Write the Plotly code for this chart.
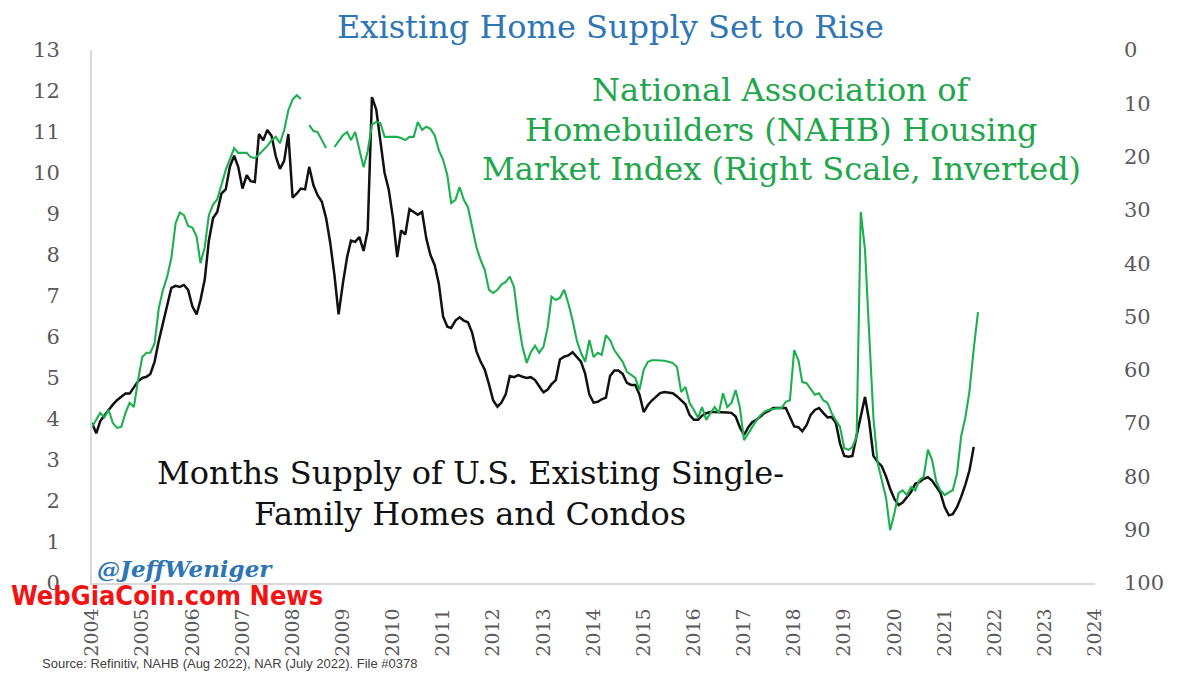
import plotly.graph_objects as go
import pandas as pd

# Months supply of existing homes (left axis), monthly from chart start
months_supply = [
    3.90, 3.65, 3.95, 4.10, 4.22, 4.35, 4.46, 4.54, 4.62, 4.62, 4.78, 4.92,
    5.00, 5.03, 5.10, 5.40, 5.90, 6.35, 6.75, 7.20, 7.25, 7.22, 7.27, 7.15,
    6.75, 6.55, 6.90, 7.40, 8.35, 8.90, 9.05, 9.50, 9.60, 10.15, 10.42, 10.15,
    9.62, 9.95, 9.80, 9.78, 10.95, 10.80, 11.05, 10.90, 10.40, 10.10, 10.30, 10.95,
    9.40, 9.50, 9.62, 9.60, 10.15, 9.70, 9.46, 9.30, 8.90, 8.30, 7.50, 6.55,
    7.30, 7.95, 8.35, 8.32, 8.44, 8.10, 8.60, 11.85, 11.55, 10.80, 10.00, 9.60,
    8.90, 7.95, 8.60, 8.50, 9.12, 9.05, 8.98, 9.05, 8.40, 8.00, 7.75, 7.30,
    6.50, 6.25, 6.22, 6.40, 6.48, 6.40, 6.36, 6.10, 5.65, 5.40, 5.20, 4.85,
    4.45, 4.30, 4.40, 4.60, 5.05, 5.02, 5.07, 5.03, 5.00, 5.02, 4.95, 4.80,
    4.65, 4.72, 4.85, 4.95, 5.45, 5.52, 5.55, 5.63, 5.50, 5.40, 5.10, 4.60,
    4.40, 4.42, 4.48, 4.52, 5.05, 5.18, 5.18, 5.10, 4.88, 4.83, 4.83, 4.60,
    4.17, 4.34, 4.45, 4.55, 4.63, 4.66, 4.65, 4.63, 4.55, 4.45, 4.36, 4.10,
    3.98, 3.98, 4.08, 4.14, 4.17, 4.17, 4.17, 4.17, 4.16, 4.15, 4.06, 3.80,
    3.61, 3.80, 3.92, 3.98, 4.07, 4.15, 4.20, 4.27, 4.27, 4.27, 4.27, 4.05,
    3.82, 3.80, 3.70, 3.85, 4.10, 4.22, 4.27, 4.15, 4.04, 4.05, 3.90, 3.40,
    3.10, 3.08, 3.10, 3.60, 4.05, 4.54, 3.95, 3.10, 2.95, 2.85, 2.60, 2.30,
    2.05, 1.90, 1.96, 2.08, 2.22, 2.42, 2.46, 2.54, 2.58, 2.50, 2.36, 2.20,
    1.85, 1.65, 1.68, 1.85, 2.10, 2.40, 2.75, 3.32,
]

# NAHB Housing Market Index (right axis, inverted); None = gap in the source line
nahb_index = [
    70.7, 69.4, 68.1, 68.9, 67.5, 70.0, 70.9, 70.7, 68.1, 66.2, 67.0, 62.0,
    57.6, 56.8, 56.8, 55.0, 48.5, 45.0, 42.6, 39.0, 32.5, 30.5, 31.0, 33.0,
    33.3, 35.0, 40.0, 37.0, 31.0, 29.0, 28.0, 25.3, 22.5, 20.5, 18.4, 19.3,
    19.3, 19.3, 20.1, 20.3, 19.6, 18.8, 18.0, 16.9, 16.3, 17.5, 15.0, 11.3,
    9.3, 8.5, 9.2, None, 14.1, 15.2, 15.4, 16.9, 18.4, None, 18.2, 17.0,
    16.0, 15.4, 16.9, 15.4, 18.5, 22.0, 19.0, 14.0, 13.5, 13.7, 16.3, 16.3,
    16.3, 16.3, 16.5, 16.9, 16.3, 16.3, 13.5, 15.0, 14.4, 14.8, 16.0, 18.8,
    20.6, 23.5, 28.7, 28.1, 25.7, 28.1, 29.5, 33.2, 37.0, 39.4, 41.3, 45.0,
    45.6, 45.0, 44.0, 43.5, 42.5, 44.5, 50.7, 55.7, 58.7, 56.7, 55.5, 56.8,
    55.7, 52.0, 46.3, 46.9, 46.5, 45.0, 47.5, 50.7, 54.5, 56.8, 58.5, 54.4,
    57.6, 56.8, 57.2, 53.5, 54.4, 56.3, 57.5, 58.5, 60.4, 61.0, 61.5, 63.8,
    60.0, 58.5, 58.2, 58.2, 58.2, 58.3, 58.5, 58.7, 59.5, 64.2, 63.2, 66.2,
    67.5, 69.0, 67.0, 69.4, 68.1, 67.0, 68.1, 64.4, 67.0, 66.2, 63.8, 67.0,
    73.2, 71.9, 70.7, 69.5, 68.5, 67.8, 67.5, 67.3, 67.2, 67.2, 66.0, 65.7,
    56.3, 58.2, 62.3, 62.5, 63.5, 64.7, 64.4, 65.7, 66.2, 68.1, 69.5, 70.7,
    74.7, 75.0, 74.5, 72.5, 30.4, 37.5, 53.1, 68.9, 77.5, 80.5, 84.0, 90.1,
    86.9, 83.1, 82.6, 83.5, 82.0, 82.6, 80.7, 80.1, 75.0, 76.9, 81.0, 82.6,
    83.5, 83.0, 82.6, 79.5, 72.5, 68.9, 64.0, 56.0, 49.2,
]

chart_start = "2004-01-01"
year_labels = [str(y) for y in range(2004, 2025)]
left_ticks = list(range(0, 14))
right_ticks = list(range(0, 101, 10))

dates_black = pd.date_range(chart_start, periods=len(months_supply), freq="MS")
dates_green = pd.date_range(chart_start, periods=len(nahb_index), freq="MS")
year_ticks = [f"{y}-01-01" for y in year_labels]

SERIF = "DejaVu Serif, Liberation Serif, serif"
GREEN = "#22A64B"
BLUE = "#2E75B6"
GRAY = "#595959"

fig = go.Figure()
fig.add_trace(go.Scatter(x=dates_green, y=nahb_index, mode="lines", yaxis="y2",
                         line=dict(color="#1DB04E", width=2.1), connectgaps=False,
                         name="NAHB HMI"))
fig.add_trace(go.Scatter(x=dates_black, y=months_supply, mode="lines",
                         line=dict(color="#111111", width=2.5), name="Months supply"))

# The page places the figure 8px in from the top-left (body margin),
# so the figure is sized 1192x667 and page pixel targets are offset by 8.
OFF = 8
W, H = 1200 - OFF, 675 - OFF
# plot area in page pixels: x 92..1095, y 50..583
L, R, T, B = 92, 1095, 50, 583
def px(xp):
    return (xp - L) / (R - L)
def py(yp):
    return (B - yp) / (B - T)

fig.update_layout(
    width=W, height=H, autosize=False,
    margin=dict(l=L - OFF, r=W - (R - OFF), t=T - OFF, b=H - (B - OFF)),
    paper_bgcolor="white", plot_bgcolor="white",
    showlegend=False,
    xaxis=dict(range=["2004-01-01", "2024-01-01"], tickvals=year_ticks, ticktext=year_labels,
               tickangle=-90, showgrid=False, zeroline=False, showline=True,
               linecolor="#D9D9D9", linewidth=1.5, ticks="",
               tickfont=dict(family=SERIF, size=19, color=GRAY), ticklabelstandoff=16),
    yaxis=dict(range=[0, 13], tickvals=left_ticks, showgrid=False, zeroline=False,
               showline=True, linecolor="#D9D9D9", linewidth=2, ticks="",
               tickfont=dict(family=SERIF, size=21, color=GRAY), ticklabelstandoff=26),
    yaxis2=dict(range=[100, 0], tickvals=right_ticks, overlaying="y", side="right",
                showgrid=False, zeroline=False, showline=False, ticks="",
                tickfont=dict(family=SERIF, size=21, color=GRAY), ticklabelstandoff=28),
)

ann = []
ann.append(dict(text="Existing Home Supply Set to Rise", x=px(610), y=py(27),
                font=dict(family=SERIF, size=32, color=BLUE)))
for txt, yy in [("National Association of", 90),
                ("Homebuilders (NAHB) Housing", 130),
                ("Market Index (Right Scale, Inverted)", 169)]:
    ann.append(dict(text=txt, x=px(781), y=py(yy), font=dict(family=SERIF, size=32, color=GREEN)))
for txt, yy in [("Months Supply of U.S. Existing Single-", 473),
                ("Family Homes and Condos", 514)]:
    ann.append(dict(text=txt, x=px(470), y=py(yy), font=dict(family=SERIF, size=32, color="#111111")))
ann.append(dict(text="<b><i>@JeffWeniger</i></b>", x=px(95), y=py(568), xanchor="left",
                font=dict(family=SERIF, size=23, color=BLUE)))
ann.append(dict(text="Source: Refinitiv, NAHB (Aug 2022), NAR (July 2022). File #0378",
                x=px(40), y=py(663), xanchor="left",
                font=dict(family="Liberation Sans, Arial, sans-serif", size=13, color="#404040")))
ann.append(dict(text="<b>WebGiaCoin.com News</b>", x=px(9), y=py(595), xanchor="left",
                font=dict(family="DejaVu Sans Condensed, Liberation Sans, sans-serif", size=27, color="#F01414")))

for a in ann:
    a.setdefault("xanchor", "center")
    a.update(xref="paper", yref="paper", yanchor="middle", showarrow=False)
fig.update_layout(annotations=ann)

fig.write_html("out.html")
